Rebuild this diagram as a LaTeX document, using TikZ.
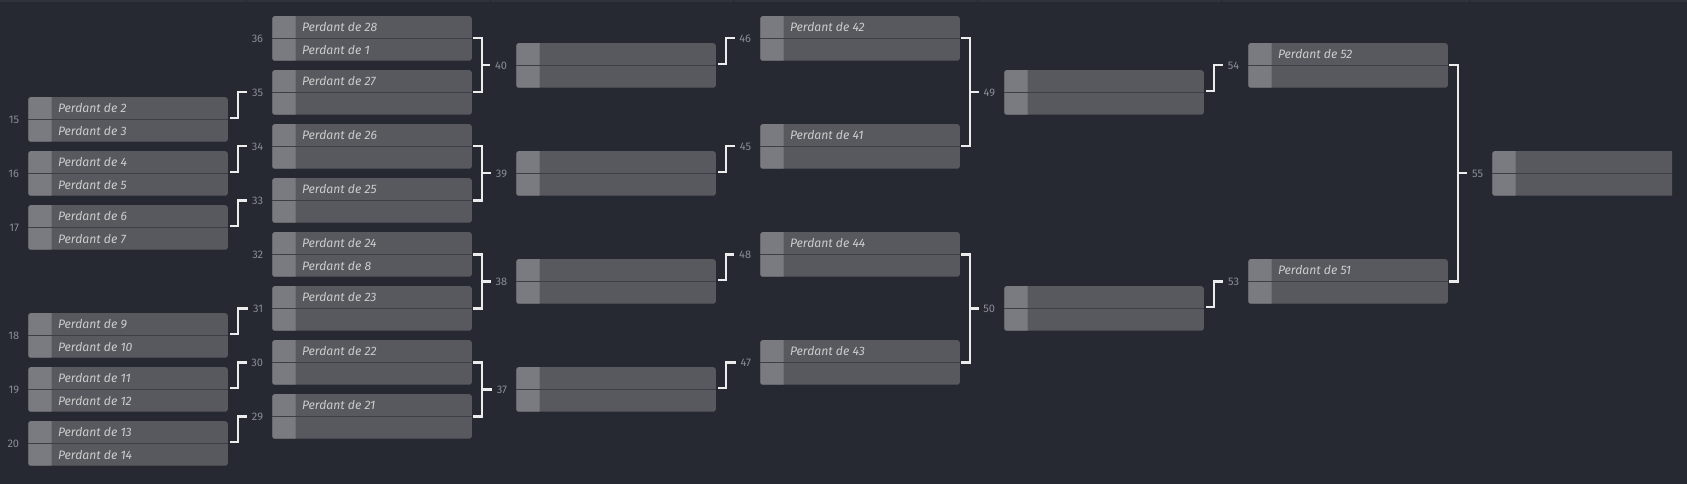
\documentclass[tikz,border=0pt]{standalone}
\usepackage{fontspec}
\setmainfont{Fira Sans}
\usetikzlibrary{calc}
\definecolor{bgc}{RGB}{38,40,50}
\definecolor{bodyc}{RGB}{88,89,95}
\definecolor{sqc}{RGB}{122,123,128}
\definecolor{divc}{RGB}{62,63,70}
\definecolor{txtc}{RGB}{204,204,204}
\definecolor{lblc}{RGB}{138,140,150}
\definecolor{conc}{RGB}{236,236,236}
\definecolor{topc}{RGB}{48,50,62}
\newcommand{\matchbox}[5]{%
  \node[mbx] (m#1) at (#2+99.75,#3+22.25) {};
  \begin{scope}
    \clip (m#1.north west) rectangle ([xshift=23.3pt]m#1.south west);
    \fill[sqc, rounded corners=2.5pt] (m#1.north west) rectangle (m#1.south east);
  \end{scope}
  \draw[divline] (m#1.west) -- (m#1.east);
  \if\relax\detokenize{#4}\relax\else
    \node[ptxt] (t#1a) at ([xshift=29.5pt,yshift=11.1pt]m#1.west) {#4};\fi
  \if\relax\detokenize{#5}\relax\else
    \node[ptxt] (t#1b) at ([xshift=29.5pt,yshift=-11.1pt]m#1.west) {#5};\fi
  \node[lbl] (l#1) at ([xshift=-9pt]m#1.west) {#1};
}
% single feeder: source, target
\newcommand{\single}[2]{%
  \draw[conn] ([xshift=2pt,yshift=1.5pt]m#1.east) -- ([xshift=10.5pt,yshift=1.5pt]m#1.east) |- ([xshift=-4.5pt]l#2.west);
}
% double feeder: upper source, lower source, target
\newcommand{\double}[3]{%
  \coordinate (b#3) at ([xshift=10pt]m#1.east);
  \draw[conn] ([xshift=1.5pt]m#1.east) -- (b#3) |- ([xshift=1.5pt]m#2.east);
  \draw[conn] (b#3 |- l#3.west) -- ([xshift=-4.5pt]l#3.west);
}
\begin{document}
\begin{tikzpicture}[x=1pt,y=-1pt,
  mbx/.style={rectangle, rounded corners=2.5pt, fill=bodyc, minimum width=199.5pt, minimum height=44.5pt, inner sep=0pt, outer sep=0pt},
  divline/.style={draw=divc, line width=1pt},
  ptxt/.style={anchor=west, inner sep=0pt, text=txtc, font=\itshape\fontsize{12.2}{13}\selectfont},
  lbl/.style={anchor=east, inner sep=0pt, text=lblc, font=\fontsize{11}{12}\selectfont},
  conn/.style={draw=conc, line width=2.1pt}]
\fill[bgc] (0,0) rectangle (1687,484);
\fill[topc] (0,0) rectangle (1687,2.5);
\foreach \tx in {245.7,490,733,977,1221,1469} {\fill[bgc] (\tx,0) rectangle (\tx+1,2.5);}
% column 1
\matchbox{15}{28.3}{97.2}{Perdant de 2}{Perdant de 3}
\matchbox{16}{28.3}{151.2}{Perdant de 4}{Perdant de 5}
\matchbox{17}{28.3}{205.2}{Perdant de 6}{Perdant de 7}
\matchbox{18}{28.3}{313.2}{Perdant de 9}{Perdant de 10}
\matchbox{19}{28.3}{367.2}{Perdant de 11}{Perdant de 12}
\matchbox{20}{28.3}{421.2}{Perdant de 13}{Perdant de 14}
% column 2
\matchbox{36}{272.3}{16.2}{Perdant de 28}{Perdant de 1}
\matchbox{35}{272.3}{70.2}{Perdant de 27}{}
\matchbox{34}{272.3}{124.2}{Perdant de 26}{}
\matchbox{33}{272.3}{178.2}{Perdant de 25}{}
\matchbox{32}{272.3}{232.2}{Perdant de 24}{Perdant de 8}
\matchbox{31}{272.3}{286.2}{Perdant de 23}{}
\matchbox{30}{272.3}{340.2}{Perdant de 22}{}
\matchbox{29}{272.3}{394.2}{Perdant de 21}{}
% column 3
\matchbox{40}{516.3}{43.2}{}{}
\matchbox{39}{516.3}{151.2}{}{}
\matchbox{38}{516.3}{259.2}{}{}
\matchbox{37}{516.3}{367.2}{}{}
% column 4
\matchbox{46}{760.3}{16.2}{Perdant de 42}{}
\matchbox{45}{760.3}{124.2}{Perdant de 41}{}
\matchbox{48}{760.3}{232.2}{Perdant de 44}{}
\matchbox{47}{760.3}{340.2}{Perdant de 43}{}
% column 5
\matchbox{49}{1004.3}{70.2}{}{}
\matchbox{50}{1004.3}{286.2}{}{}
% column 6
\matchbox{54}{1248.3}{43.2}{Perdant de 52}{}
\matchbox{53}{1248.3}{259.2}{Perdant de 51}{}
% column 7 (cut at right)
\begin{scope}
\clip (0,0) rectangle (1672,484);
\matchbox{55}{1492.3}{151.2}{}{}
\end{scope}
% connectors
\single{15}{35}
\single{16}{34}
\single{17}{33}
\single{18}{31}
\single{19}{30}
\single{20}{29}
\double{36}{35}{40}
\double{34}{33}{39}
\double{32}{31}{38}
\double{30}{29}{37}
\single{40}{46}
\single{39}{45}
\single{38}{48}
\single{37}{47}
\double{46}{45}{49}
\double{48}{47}{50}
\single{49}{54}
\single{50}{53}
\double{54}{53}{55}
\end{tikzpicture}
\end{document}
